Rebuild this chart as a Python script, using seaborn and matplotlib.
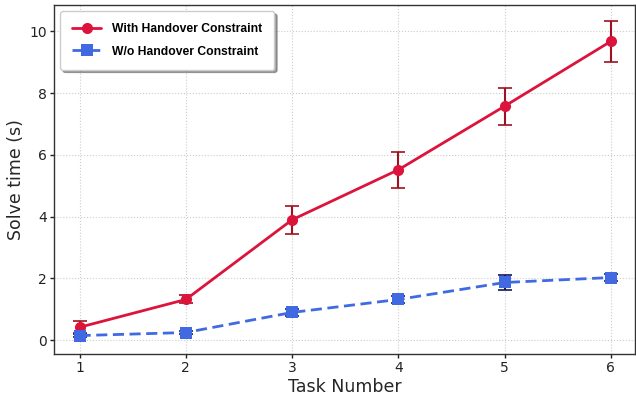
import numpy as np
import pandas as pd
import seaborn as sns
import matplotlib
matplotlib.use("Agg")
import matplotlib.pyplot as plt

tasks = [1, 2, 3, 4, 5, 6]
with_hc = [0.42, 1.32, 3.90, 5.52, 7.58, 9.68]
with_hc_err = [0.20, 0.13, 0.45, 0.58, 0.60, 0.67]
wo_hc = [0.15, 0.25, 0.90, 1.32, 1.87, 2.03]
wo_hc_err = [0.05, 0.05, 0.10, 0.12, 0.25, 0.12]
labels = ["With Handover Constraint", "W/o Handover Constraint"]

sns.set_theme(style="whitegrid")
plt.rcParams['font.family'] = ['DejaVu Sans']

fig, ax = plt.subplots(figsize=(6.36, 3.97), dpi=100)
fig.subplots_adjust(left=0.085, right=0.999, top=0.987, bottom=0.108)

df = pd.DataFrame({
    "Task": tasks * 2,
    "Time": with_hc + wo_hc,
    "Method": [labels[0]] * 6 + [labels[1]] * 6,
})

colors = {labels[0]: "#DC143C", labels[1]: "#4169E1"}
ax.errorbar(tasks, with_hc, yerr=with_hc_err, fmt="none", ecolor="#A01020",
            capsize=5, elinewidth=1.5, capthick=1.2, zorder=2)
ax.errorbar(tasks, wo_hc, yerr=wo_hc_err, fmt="none", ecolor="#101860",
            capsize=5, elinewidth=1.5, capthick=1.2, zorder=2)

sns.lineplot(data=df, x="Task", y="Time", hue="Method", style="Method",
             palette=colors, markers={labels[0]: "o", labels[1]: "s"},
             dashes={labels[0]: "", labels[1]: (4, 2)},
             markersize=8, linewidth=2, ax=ax, zorder=3, markeredgewidth=0)

ax.set_xlim(0.76, 6.23)
ax.set_ylim(-0.45, 10.85)
ax.set_xticks(tasks)
ax.set_yticks([0, 2, 4, 6, 8, 10])
ax.set_xlabel("Task Number", fontsize=12.5, labelpad=2)
ax.set_ylabel("Solve time (s)", fontsize=12.5, labelpad=3)
ax.tick_params(axis="both", labelsize=10, direction="out", length=3, width=1,
               pad=2, bottom=True, left=True, colors="#222222")
ax.grid(True, linestyle=":", linewidth=0.8, color="#cccccc")
for s in ax.spines.values():
    s.set_color("#333333")
    s.set_linewidth(1.0)

leg = ax.legend(loc="upper left", frameon=True, shadow=True, fancybox=True,
                prop={"family": "Liberation Sans", "weight": "bold", "size": 8.7},
                borderpad=1.0, handlelength=2.4, labelspacing=0.85,
                handletextpad=0.9, borderaxespad=0.5)
for t in leg.get_texts():
    t.set_color("black")
leg.get_frame().set_edgecolor("#cccccc")
leg.get_frame().set_facecolor("white")
leg.get_frame().set_alpha(1)

fig.savefig("out.png", dpi=100)
